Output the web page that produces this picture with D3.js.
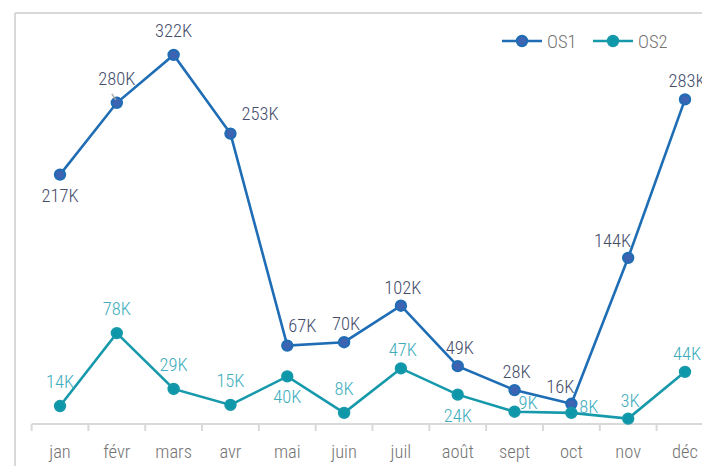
<!DOCTYPE html>
<html>
<head>
<meta charset="utf-8">
<script src="https://cdn.jsdelivr.net/npm/d3@7"></script>
<style>
  body { margin: 0; background: #fff; }
  text { font-family: "Roboto Condensed", Roboto, sans-serif; font-weight: 300; }
</style>
</head>
<body>
<div id="chart"></div>
<script>
const width = 702;
const height = 466;

const months = ["jan", "févr", "mars", "avr", "mai", "juin", "juil", "août", "sept", "oct", "nov", "déc"];
const os1 = [217, 280, 322, 253, 67, 70, 102, 49, 28, 16, 144, 283];
const os2 = [14, 78, 29, 15, 40, 8, 47, 24, 9, 8, 3, 44];
// where each data label sits relative to its point
const os1Place = ["below", "high", "high", "farRight", "nearRight", "above", "above", "above", "above", "left", "left", "above"];
const os2Place = ["high", "high", "high", "high", "below", "high", "above", "below", "upRight", "right", "above", "above"];

const c1 = "#1e6db5", c1fill = "#3d64b2", c1text = "#454d6b";
const c2 = "#1699aa", c2fill = "#0e97a9", c2text = "#40adbd";
const grey = "#d9d9d9";
const squeeze = 1;
const fontSize = 18.5;

const svg = d3.select("#chart")
    .append("svg")
    .attr("width", width)
    .attr("height", height);

// frame
svg.append("line").attr("x1", 15).attr("x2", width).attr("y1", 13).attr("y2", 13)
    .attr("stroke", grey).attr("stroke-width", 2);
svg.append("line").attr("x1", 15).attr("x2", 15).attr("y1", 13).attr("y2", height)
    .attr("stroke", grey).attr("stroke-width", 2);

const x = d3.scalePoint()
    .domain(months)
    .range([60, 685]);
const step = x.step();

const y = d3.scaleLinear()
    .domain([0, 350])
    .range([422, 23]);

function label(g, tx, ty, str, color, anchor) {
    g.append("text")
        .attr("transform", `translate(${tx},${ty}) scale(${squeeze},1)`)
        .attr("text-anchor", anchor || "middle")
        .attr("fill", color)
        .style("font-size", fontSize + "px")
        .text(str);
}

// x axis
const axisY = 424;
const axis = svg.append("g");
axis.append("line")
    .attr("x1", x(months[0]) - step / 2).attr("x2", width)
    .attr("y1", axisY).attr("y2", axisY)
    .attr("stroke", grey).attr("stroke-width", 2);
axis.selectAll(".tick")
    .data(months.concat(["_end"]))
    .enter().append("line")
    .attr("x1", (d, i) => x(months[0]) - step / 2 + i * step)
    .attr("x2", (d, i) => x(months[0]) - step / 2 + i * step)
    .attr("y1", axisY).attr("y2", axisY + 7)
    .attr("stroke", grey).attr("stroke-width", 2);
months.forEach(m => label(axis, x(m), 458, m, "#737373"));

const line = d3.line()
    .x((d, i) => x(months[i]))
    .y(d => y(d));

// [dx, dy, anchor]
function offset(place) {
    switch (place) {
        case "below": return [0, 27, "middle"];
        case "high": return [0, -18, "middle"];
        case "farRight": return [11, -14, "start"];
        case "nearRight": return [1, -14, "start"];
        case "left": return [3, -11, "end"];
        case "upRight": return [4, -3, "start"];
        case "right": return [8, 0, "start"];
        default: return [2, -12, "middle"];
    }
}

function series(values, stroke, fill) {
    const g = svg.append("g");
    g.append("path")
        .datum(values)
        .attr("d", line)
        .attr("fill", "none")
        .attr("stroke", stroke)
        .attr("stroke-width", 2.6);
    g.selectAll("circle")
        .data(values)
        .enter().append("circle")
        .attr("cx", (d, i) => x(months[i]))
        .attr("cy", d => y(d))
        .attr("r", 5.2)
        .attr("fill", fill)
        .attr("stroke", stroke)
        .attr("stroke-width", 2);
    return g;
}

series(os1, c1, c1fill);
series(os2, c2, c2fill);

// small leader for févr label
svg.append("line")
    .attr("x1", x("févr") - 5).attr("y1", y(os1[1]) - 9)
    .attr("x2", x("févr") - 1).attr("y2", y(os1[1]) - 3)
    .attr("stroke", "#aaa").attr("stroke-width", 1.5);

const labels = svg.append("g");
function addLabels(values, places, color) {
    values.forEach((v, i) => {
        const o = offset(places[i]);
        label(labels, x(months[i]) + o[0], y(v) + o[1], v + "K", color, o[2]);
    });
}
addLabels(os2, os2Place, c2text);
addLabels(os1, os1Place, c1text);

// legend
const legend = svg.append("g");
[["OS1", c1, c1fill, 502], ["OS2", c2, c2fill, 593]].forEach(([name, s, f, lx]) => {
    legend.append("line").attr("x1", lx).attr("x2", lx + 40).attr("y1", 41).attr("y2", 41)
        .attr("stroke", s).attr("stroke-width", 2.6);
    legend.append("circle").attr("cx", lx + 20).attr("cy", 41).attr("r", 5.2)
        .attr("fill", f).attr("stroke", s).attr("stroke-width", 2);
    label(legend, lx + 45, 48, name, "#737373", "start");
});
</script>
</body>
</html>
